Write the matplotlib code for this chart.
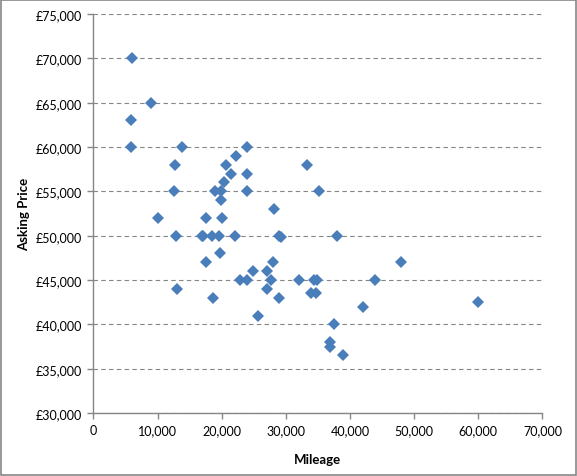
import matplotlib
matplotlib.use("Agg")
import matplotlib.pyplot as plt
from matplotlib.patches import Rectangle
from matplotlib.ticker import FuncFormatter, MultipleLocator

# values
mileage = [
    6000, 9000, 5900, 5900, 13800, 12700, 12600, 10000, 12900, 17000,
    17100, 18500, 19500, 22100, 29000, 29200, 38000, 17500, 20100, 19900,
    19000, 19900, 24000, 20400, 21500, 24000, 20700, 22300, 24000, 28100,
    33300, 35200, 19800, 17600, 28000, 24800, 27000, 22800, 24000, 27700,
    32100, 34400, 34900, 43900, 48000, 13000, 27000, 18600, 29000, 33900,
    34700, 25600, 42000, 60000, 37500, 36900, 36900, 38900,
]
asking_price = [
    70000, 65000, 63000, 60000, 60000, 58000, 55000, 52000, 50000, 50000,
    50000, 50000, 50000, 50000, 50000, 49800, 50000, 52000, 52000, 54000,
    55000, 55000, 55000, 56000, 57000, 57000, 58000, 59000, 60000, 53000,
    58000, 55000, 48000, 47000, 47000, 46000, 46000, 45000, 45000, 45000,
    45000, 45000, 45000, 45000, 47000, 44000, 44000, 43000, 43000, 43500,
    43500, 41000, 42000, 42500, 40000, 38000, 37500, 36500,
]

font = ["Lato", "DejaVu Sans"]
plt.rcParams["font.family"] = font
axis_grey = "#868686"

fig = plt.figure(figsize=(5.77, 4.77), dpi=100)
ax = fig.add_axes([0.162, 0.132, 0.778, 0.8365])

ax.plot(mileage, asking_price, linestyle="none", marker="D", markersize=6.4,
        color="#4A7EBB", markeredgewidth=0, zorder=3)

ax.set_xlim(0, 70000)
ax.set_ylim(30000, 75000)
ax.xaxis.set_major_locator(MultipleLocator(10000))
ax.yaxis.set_major_locator(MultipleLocator(5000))
ax.xaxis.set_major_formatter(FuncFormatter(lambda v, p: f"{int(v):,}"))
ax.yaxis.set_major_formatter(FuncFormatter(lambda v, p: f"£{int(v):,}"))

ax.grid(axis="y", color=axis_grey, linestyle=(0, (4, 3)), linewidth=0.8)
ax.set_axisbelow(True)
for side in ("top", "right"):
    ax.spines[side].set_visible(False)
for side in ("left", "bottom"):
    ax.spines[side].set_color(axis_grey)
    ax.spines[side].set_linewidth(1.0)
ax.tick_params(direction="out", length=4, width=1.0, color=axis_grey,
               labelsize=9, labelcolor="black", pad=4)

ax.set_xlabel("Mileage", fontsize=9.5, fontweight="bold", labelpad=12)
ax.set_ylabel("Asking Price", fontsize=9.5, fontweight="bold", labelpad=4)

# grey chart-area border
fig.add_artist(Rectangle((0.002, 0.002), 0.996, 0.996, transform=fig.transFigure,
                         fill=False, edgecolor=axis_grey, linewidth=1.2))

fig.savefig("out.png", dpi=100)
